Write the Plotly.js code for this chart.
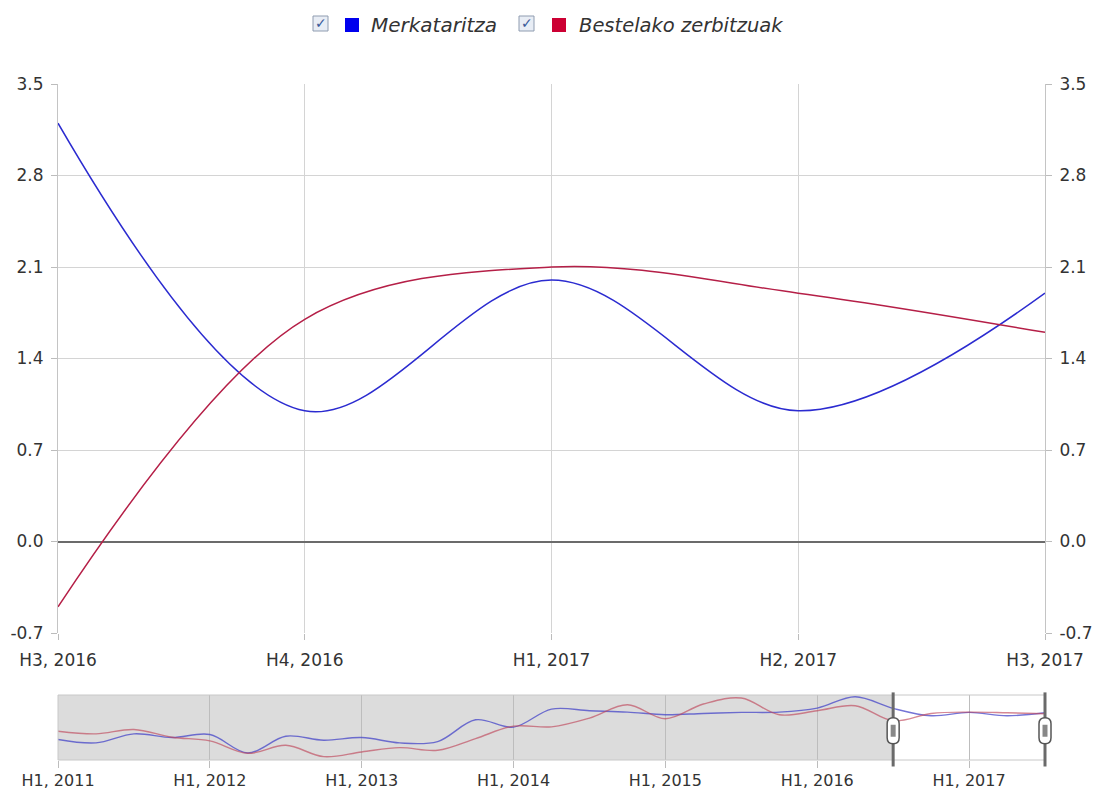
<!DOCTYPE html>
<html>
<head>
<meta charset="utf-8">
<script src="https://cdn.plot.ly/plotly-3.0.1.min.js"></script>
<style>html,body{margin:0;padding:0;background:#fff;}#chart{width:1099px;height:792px;}</style>
</head>
<body>
<div id="chart"></div>
<script>
// ---- data ----
const categories = ['H3, 2016', 'H4, 2016', 'H1, 2017', 'H2, 2017', 'H3, 2017'];
const merkataritza = [3.2, 1.0, 2.0, 1.0, 1.9];
const bestelako = [-0.5, 1.7, 2.1, 1.9, 1.6];
const yTicks = [-0.7, 0.0, 0.7, 1.4, 2.1, 2.8, 3.5];

const navQuarters = ['H1, 2011','H2, 2011','H3, 2011','H4, 2011',
  'H1, 2012','H2, 2012','H3, 2012','H4, 2012',
  'H1, 2013','H2, 2013','H3, 2013','H4, 2013',
  'H1, 2014','H2, 2014','H3, 2014','H4, 2014',
  'H1, 2015','H2, 2015','H3, 2015','H4, 2015',
  'H1, 2016','H2, 2016','H3, 2016','H4, 2016',
  'H1, 2017','H2, 2017','H3, 2017'];
const navMerkataritza = [-6.1,-7.1,-4.4,-5.5,-4.6,-10.1,-5.1,-6.3,-5.5,-7.1,-6.7,-0.2,-2.4,3.0,2.5,2.1,1.3,1.7,2.0,2.1,3.3,6.7,3.2,1.0,2.0,1.0,1.9];
const navBestelako = [-3.6,-4.4,-3.1,-5.4,-6.5,-10.2,-7.8,-11.2,-9.8,-8.5,-9.3,-5.8,-2.1,-2.3,0.3,4.3,0.1,4.5,6.3,1.3,2.5,4.0,-0.5,1.7,2.1,1.9,1.6];
const seriesNames = ['Merkataritza', 'Bestelako zerbitzuak'];

// ---- layout helpers ----
const W = 1099, H = 792;
const L = 58, R = 1045, T = 84, B = 760;
const px2x = p => (p - L) / (R - L);
const px2y = p => (B - p) / (B - T);
const FONT = 'DejaVu Sans, Verdana, sans-serif';

const navIdx = navQuarters.map((q, i) => i);
const navLast = navQuarters.length - 1;
const selStart = navQuarters.indexOf(categories[0]);
const selEnd = navQuarters.indexOf(categories[categories.length - 1]);
const navTickVals = navIdx.filter(i => navQuarters[i].startsWith('H1'));
const navTickText = navTickVals.map(i => navQuarters[i]);
const yTickText = yTicks.map(v => v.toFixed(1));

const blue = '#2b2bd0', red = '#b51f47';

const traces = [
  {x: categories, y: merkataritza, name: seriesNames[0], type: 'scatter', mode: 'lines',
   line: {color: blue, width: 1.5, shape: 'spline', smoothing: 1}, xaxis: 'x', yaxis: 'y', hoverinfo: 'skip'},
  {x: categories, y: bestelako, name: seriesNames[1], type: 'scatter', mode: 'lines',
   line: {color: red, width: 1.5, shape: 'spline', smoothing: 1}, xaxis: 'x', yaxis: 'y', hoverinfo: 'skip'},
  {x: categories, y: merkataritza, type: 'scatter', mode: 'lines', showlegend: false,
   line: {color: 'rgba(0,0,0,0)', width: 0}, xaxis: 'x', yaxis: 'y2', hoverinfo: 'skip'},
  {x: navIdx, y: navMerkataritza, type: 'scatter', mode: 'lines', showlegend: false,
   line: {color: 'rgba(70,70,200,0.75)', width: 1.4, shape: 'spline', smoothing: 1}, xaxis: 'x2', yaxis: 'y3', hoverinfo: 'skip'},
  {x: navIdx, y: navBestelako, type: 'scatter', mode: 'lines', showlegend: false,
   line: {color: 'rgba(190,70,90,0.65)', width: 1.4, shape: 'spline', smoothing: 1}, xaxis: 'x2', yaxis: 'y3', hoverinfo: 'skip'}
];

const tickFont = {family: FONT, size: 17, color: '#333'};
const navFont = {family: FONT, size: 16, color: '#333'};
const mainDomainBottom = px2y(633);
const navDomainTop = px2y(695);
const navIdxToPaper = i => i / navLast;           // x2 spans the full width, range [0, navLast]
const navDomToPaper = f => f * navDomainTop;      // yaxis3 domain [0, navDomainTop]

const shapes = [
  {type: 'rect', xref: 'x2', yref: 'y3 domain', x0: 0, x1: selStart, y0: 0, y1: 1,
   fillcolor: '#dcdcdc', line: {width: 0}, layer: 'below'},
  {type: 'rect', xref: 'paper', yref: 'paper', x0: 0, x1: 1, y0: 0, y1: navDomToPaper(1),
   fillcolor: 'rgba(0,0,0,0)', line: {color: '#c8c8c8', width: 1}, layer: 'above'}
];
[selStart, selEnd].forEach(idx => {
  shapes.push({type: 'line', xref: 'paper', yref: 'paper', x0: navIdxToPaper(idx), x1: navIdxToPaper(idx),
    y0: navDomToPaper(-0.1), y1: navDomToPaper(1.04), line: {color: '#6a6a6a', width: 3}, layer: 'above'});
  shapes.push({type: 'path', xref: 'paper', yref: 'paper', xsizemode: 'pixel', ysizemode: 'pixel',
    xanchor: navIdxToPaper(idx), yanchor: navDomToPaper(0.45),
    path: 'M -6,-7 L -6,7 Q -6,13 0,13 Q 6,13 6,7 L 6,-7 Q 6,-13 0,-13 Q -6,-13 -6,-7 Z',
    fillcolor: '#ffffff', line: {color: '#555', width: 1.5}, layer: 'above'});
  shapes.push({type: 'rect', xref: 'paper', yref: 'paper', xsizemode: 'pixel', ysizemode: 'pixel',
    xanchor: navIdxToPaper(idx), yanchor: navDomToPaper(0.45), x0: -2.5, x1: 2.5, y0: -6, y1: 6,
    fillcolor: '#888', line: {width: 0}, layer: 'above'});
});

// legend (custom: checkbox + colour square + italic text)
const legendItems = [
  {box: 313, sq: 345, text: 369, color: '#0000ee', label: seriesNames[0], size: 20},
  {box: 519, sq: 552, text: 577, color: '#cc0033', label: seriesNames[1], size: 19.5}
];
const annotations = [];
legendItems.forEach(it => {
  shapes.push({type: 'rect', xref: 'paper', yref: 'paper', x0: px2x(it.box), x1: px2x(it.box + 15),
    y0: px2y(31), y1: px2y(16), fillcolor: '#e8edf5', line: {color: '#8f9cb0', width: 1}});
  annotations.push({xref: 'paper', yref: 'paper', x: px2x(it.box + 7.5), y: px2y(23), text: '<b>✓</b>',
    showarrow: false, font: {family: FONT, size: 14, color: '#3a5a9a'}, xanchor: 'center', yanchor: 'middle'});
  shapes.push({type: 'rect', xref: 'paper', yref: 'paper', x0: px2x(it.sq), x1: px2x(it.sq + 14),
    y0: px2y(32), y1: px2y(18), fillcolor: it.color, line: {width: 0}});
  annotations.push({xref: 'paper', yref: 'paper', x: px2x(it.text), y: px2y(25), text: '<i>' + it.label + '</i>',
    showarrow: false, font: {family: FONT, size: it.size, color: '#333'}, xanchor: 'left', yanchor: 'middle'});
});

const layout = {
  width: W, height: H,
  margin: {l: L, r: W - R, t: T, b: H - B, pad: 0},
  paper_bgcolor: '#fff', plot_bgcolor: 'rgba(0,0,0,0)',
  showlegend: false,
  font: {family: FONT, color: '#333'},
  xaxis: {domain: [0, 1], anchor: 'y', type: 'category', range: [0, categories.length - 1],
    showgrid: true, gridcolor: '#d4d4d4', gridwidth: 1,
    showline: false, zeroline: false, ticks: 'outside', ticklen: 6, tickcolor: '#bcbcbc',
    tickfont: tickFont, ticklabelstandoff: 6, fixedrange: true},
  yaxis: {domain: [mainDomainBottom, 1], anchor: 'x', range: [yTicks[0], yTicks[yTicks.length - 1]],
    tickvals: yTicks, ticktext: yTickText, showgrid: true, gridcolor: '#d4d4d4',
    zeroline: true, zerolinecolor: '#6b6b6b', zerolinewidth: 2,
    showline: true, linecolor: '#c4c4c4', ticks: 'outside', ticklen: 6, tickcolor: '#bcbcbc',
    tickfont: tickFont, ticklabelstandoff: 4, fixedrange: true},
  yaxis2: {overlaying: 'y', side: 'right', anchor: 'x', range: [yTicks[0], yTicks[yTicks.length - 1]],
    tickvals: yTicks, ticktext: yTickText, showgrid: false, zeroline: false,
    showline: true, linecolor: '#c4c4c4', ticks: 'outside', ticklen: 6, tickcolor: '#bcbcbc',
    tickfont: tickFont, ticklabelstandoff: 4, fixedrange: true},
  xaxis2: {domain: [0, 1], anchor: 'y3', range: [0, navLast],
    tickvals: navTickVals, ticktext: navTickText, showgrid: true, gridcolor: '#bdbdbd',
    zeroline: false, showline: false, ticks: 'outside', ticklen: 7, tickcolor: '#bdbdbd',
    tickfont: navFont, ticklabelstandoff: -1, fixedrange: true},
  yaxis3: {domain: [0, navDomainTop], anchor: 'x2', range: [-12.2, 7.2], showgrid: false,
    zeroline: false, showticklabels: false, ticks: '', showline: false, fixedrange: true},
  shapes: shapes,
  annotations: annotations
};

Plotly.newPlot('chart', traces, layout, {displayModeBar: false, staticPlot: true});
</script>
</body>
</html>
